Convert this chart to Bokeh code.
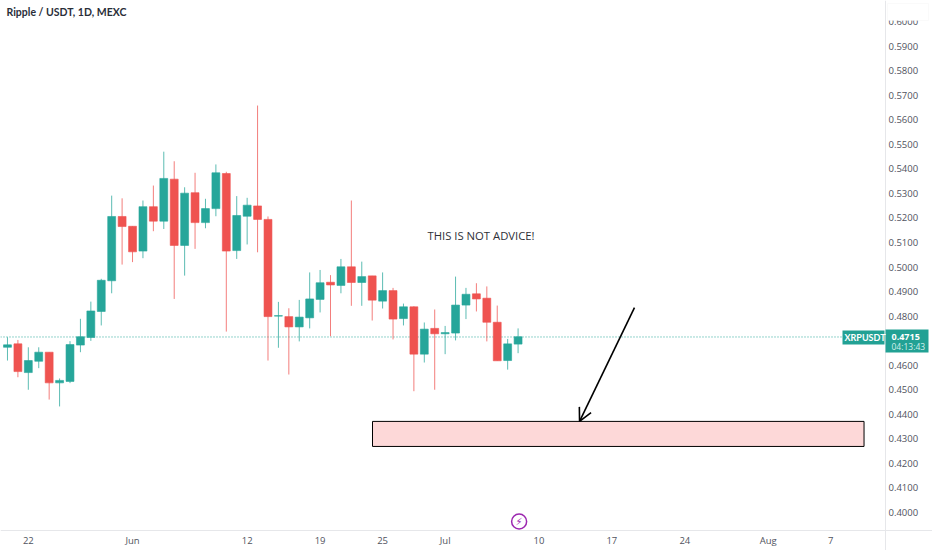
from bokeh.plotting import figure
from bokeh.embed import file_html
from bokeh.resources import INLINE
from bokeh.models import (Arrow, OpenHead, BoxAnnotation, FixedTicker, Label, LinearAxis,
                          Range1d, NumeralTickFormatter)
from bokeh.core.properties import value

TITLE = "Ripple / USDT, 1D, MEXC"
NOTE = "THIS IS NOT ADVICE!"
SYMBOL = "XRPUSDT"
LAST = 0.4715
COUNTDOWN = "04:13:43"

# daily candles from 20 May to 8 Jul
opens = [.4673,.4687,.4570,.4616,.4653,.4528,.4534,.4682,.4713,.4819,.4944,.5206,.5166,.5065,.5246,.5187,.5358,.5088,.5303,.5181,.5238,.5381,.5067,.5207,.5249,.5194,
         .4800,.4798,.4756,.4793,.4868,.4938,.4925,.5001,.4937,.4964,.4861,.4904,.4790,.4838,.4645,.4750,.4728,.4731,.4845,.4891,.4873,.4775,.4619,.4686]
highs = [.4714,.4703,.4673,.4673,.4653,.4546,.4698,.4789,.4859,.4952,.5291,.5280,.5166,.5271,.5332,.5470,.5431,.5325,.5384,.5278,.5418,.5388,.5289,.5282,.5658,.5206,
         .4858,.4832,.4866,.4978,.4988,.4967,.5033,.5271,.5022,.4964,.4978,.4915,.4851,.4840,.4774,.4827,.4760,.4961,.4915,.4934,.4921,.4843,.4707,.4750]
lows = [.4619,.4551,.4500,.4588,.4460,.4432,.4527,.4653,.4699,.4762,.4893,.5010,.5020,.5036,.5146,.5155,.4870,.4965,.5074,.5158,.5207,.4737,.5033,.5092,.5060,.4619,
        .4671,.4562,.4697,.4750,.4815,.4718,.4893,.4842,.4842,.4782,.4831,.4705,.4762,.4494,.4611,.4500,.4645,.4701,.4788,.4819,.4697,.4618,.4582,.4649]
closes = [.4683,.4574,.4619,.4653,.4528,.4538,.4684,.4716,.4821,.4946,.5206,.5165,.5062,.5246,.5187,.5361,.5088,.5301,.5181,.5238,.5384,.5065,.5210,.5252,.5194,.4798,
          .4802,.4756,.4796,.4870,.4936,.4927,.5001,.4937,.4961,.4865,.4904,.4788,.4838,.4645,.4747,.4728,.4733,.4845,.4889,.4870,.4775,.4618,.4687,.4716]
days = list(range(len(opens)))

time_ticks = [2, 12, 23, 30, 36, 42, 51, 58, 65, 73, 79]
time_labels = ["22", "Jun", "12", "19", "25", "Jul", "10", "17", "24", "Aug", "7"]
price_ticks = [.40,.41,.42,.43,.44,.45,.46,.47,.48,.49,.50,.51,.52,.53,.54,.55,.56,.57,.58,.59,.60]

x_left, x_right, x_axis_at = -0.67, 88.77, 84.26
y_bottom, y_top, y_axis_at = 0.3845, 0.6086, 0.3927

zone_low, zone_high = 0.4269, 0.4371
zone_start, zone_end = 35.03, 82.2
arrow_from = (60.17, 0.4835)
arrow_to = (54.9, 0.4371)
note_at = (40.3, 0.5128)
event_at = (49.1, 0.3963)

UP = "#26a69a"
DOWN = "#ef5350"
TEXT = "#50535e"
FONT = "Open Sans"
TITLE_FONT = "Lato"

p = figure(width=932, height=550, output_backend="svg", toolbar_location=None,
           x_range=Range1d(x_left, x_right), y_range=Range1d(y_bottom, y_top),
           min_border_left=0, min_border_top=0, min_border_right=0, min_border_bottom=0,
           y_axis_location=None, x_axis_location=None)
p.margin = (0, 0, 0, 0)
p.outline_line_color = None
p.xgrid.visible = False
p.ygrid.visible = False
p.background_fill_color = "white"

xa = LinearAxis(ticker=FixedTicker(ticks=time_ticks), fixed_location=y_axis_at,
                major_label_overrides=dict(zip(time_ticks, time_labels)))
ya = LinearAxis(ticker=FixedTicker(ticks=price_ticks), fixed_location=x_axis_at,
                formatter=NumeralTickFormatter(format="0.0000"))
for ax in (xa, ya):
    ax.axis_line_color = "#e6e7ea"
    ax.axis_line_width = 1
    ax.major_tick_line_color = None
    ax.minor_tick_line_color = None
    ax.major_tick_in = 0
    ax.major_tick_out = 0
    ax.major_label_text_color = TEXT
    ax.major_label_text_font = FONT
    ax.major_label_text_font_size = "9.5px"
    ax.major_label_standoff = 4
ya.major_label_standoff = 3
p.add_layout(xa, "below")
p.add_layout(ya, "right")

p.segment([x_left], [LAST], [x_axis_at], [LAST], line_color=UP, line_dash="1 2", line_width=1)

colors = [UP if c >= o else DOWN for o, c in zip(opens, closes)]
p.segment(days, highs, days, lows, color=colors, line_width=1, line_alpha=0.75)
p.vbar(days, top=[max(a, b) for a, b in zip(opens, closes)],
       bottom=[min(a, b) for a, b in zip(opens, closes)],
       width=0.76, fill_color=colors, line_color=colors, line_width=0.6)

p.quad(left=[zone_start], right=[zone_end], bottom=[zone_low], top=[zone_high],
       fill_color="#fdd8d8", line_color="black", line_width=1)
p.add_layout(Arrow(x_start=arrow_from[0], y_start=arrow_from[1], x_end=arrow_to[0], y_end=arrow_to[1],
                   line_color="black", line_width=1.6,
                   end=OpenHead(size=13, line_color="black", line_width=1.6)))
p.text([note_at[0]], [note_at[1]], text=[NOTE], text_font=value(FONT), text_font_size="11.3px",
       text_color="#2f3138", text_baseline="middle")

p.scatter([event_at[0]], [event_at[1]], size=15, marker="circle", fill_color="white",
          line_color="#9c27b0", line_width=1.5)
p.text([event_at[0]], [event_at[1]], text=["\u26a1"], text_font=value("DejaVu Sans"),
       text_font_size="10px", text_color="#9c27b0", text_align="center", text_baseline="middle")

# last-price tags
for l, r, t, b, fc, lc in [(842, 884, 330, 344, "#22a194", None),
                           (885, 928, 329, 352, "#22a194", None),
                           (887, 928, 3, 20, "white", "#eeeeee")]:
    p.add_layout(BoxAnnotation(left=l, right=r, top=t, bottom=b, left_units="canvas", right_units="canvas",
                               top_units="canvas", bottom_units="canvas", fill_color=fc, fill_alpha=1,
                               line_color=lc))
for x, y, t, c, f, s, w in [(844, 337, SYMBOL, "white", TITLE_FONT, "9px", "bold"),
                            (891, 336, f"{LAST:.4f}", "white", FONT, "9px", "bold"),
                            (891, 346, COUNTDOWN, "#d3f0ec", FONT, "8.5px", "normal"),
                            (6, 11, TITLE, "#2a2e39", TITLE_FONT, "10.5px", "bold")]:
    p.add_layout(Label(x=x, y=y, x_units="canvas", y_units="canvas", text=t, text_color=c,
                       text_font=f, text_font_size=s, text_font_style=w,
                       text_baseline="middle", text_align="left"))

open("out.html", "w").write(file_html(p, INLINE))
